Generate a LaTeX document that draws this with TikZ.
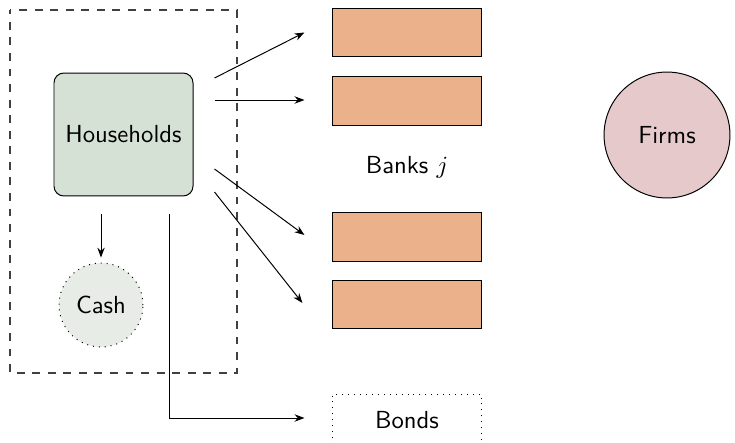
\documentclass[tikz,border=0pt]{standalone}
\usetikzlibrary{arrows.meta,calc}
\renewcommand{\familydefault}{\sfdefault}
\definecolor{hhfill}{HTML}{D6E1D5}
\definecolor{cashfill}{HTML}{E8ECE6}
\definecolor{bankfill}{HTML}{EBB18A}
\definecolor{firmfill}{HTML}{E6CACB}
\begin{document}
\begin{tikzpicture}[x=0.405pt,y=-0.405pt,
  every node/.style={font=\sffamily},
  flow/.style={-{Stealth[length=4pt,width=3pt]},line width=0.4pt},
  hhbox/.style={draw,rounded corners=4pt,fill=hhfill,minimum width=56.3pt,minimum height=49.8pt,line width=0.4pt},
  cashbox/.style={circle,draw,dotted,fill=cashfill,minimum size=34pt,inner sep=0pt},
  bankbox/.style={draw,fill=bankfill,minimum width=60pt,minimum height=19.8pt,inner sep=0pt,line width=0.4pt},
  bondbox/.style={draw,dotted,minimum width=60pt,minimum height=21pt,inner sep=0pt},
  firmbox/.style={circle,draw,fill=firmfill,minimum size=51pt,inner sep=0pt,line width=0.4pt},
  frame/.style={draw=black!75,dash pattern=on 3.2pt off 3.1pt,dash phase=1.5pt,line width=0.55pt}
]
\clip (0,0) rectangle (735,442);

% household sector frame
\coordinate (fA) at (10,10);
\coordinate (fB) at (237,373);
\draw[frame] (fA) rectangle (fB);

% nodes
\node[hhbox] (hh) at (123.5,134.5) {Households};
\node[cashbox] (cash) at (101,305) {Cash};
\node[bankbox] (b1) at (407,32.5) {};
\node[bankbox] (b2) at (407,101) {};
\node[bankbox] (b3) at (407,237) {};
\node[bankbox] (b4) at (407,304.5) {};
\node (banks) at (407,167) {Banks $j$};
\node[bondbox] (bonds) at (407,420) {Bonds};
\node[firmbox] (firms) at (667,135) {Firms};

% flows out of the household sector
\draw[flow] ([shift={(21,-56.5)}]hh.east) -- ([shift={(-28,0)}]b1.west);
\draw[flow] ([shift={(21,-34.5)}]hh.east) -- ([shift={(-28,-1)}]b2.west);
\draw[flow] ([shift={(21,34.5)}]hh.east) -- ([shift={(-28,-2)}]b3.west);
\draw[flow] ([shift={(21,57.5)}]hh.east) -- ([shift={(-30,-1.5)}]b4.west);
\draw[flow] ([shift={(0,18)}]cash.north |- hh.south) -- ([shift={(0,-5)}]cash.north);
\coordinate (bs) at ([shift={(45.5,18)}]hh.south);
\draw[flow] (bs) |- ([shift={(-28,-2)}]bonds.west);
\end{tikzpicture}
\end{document}
